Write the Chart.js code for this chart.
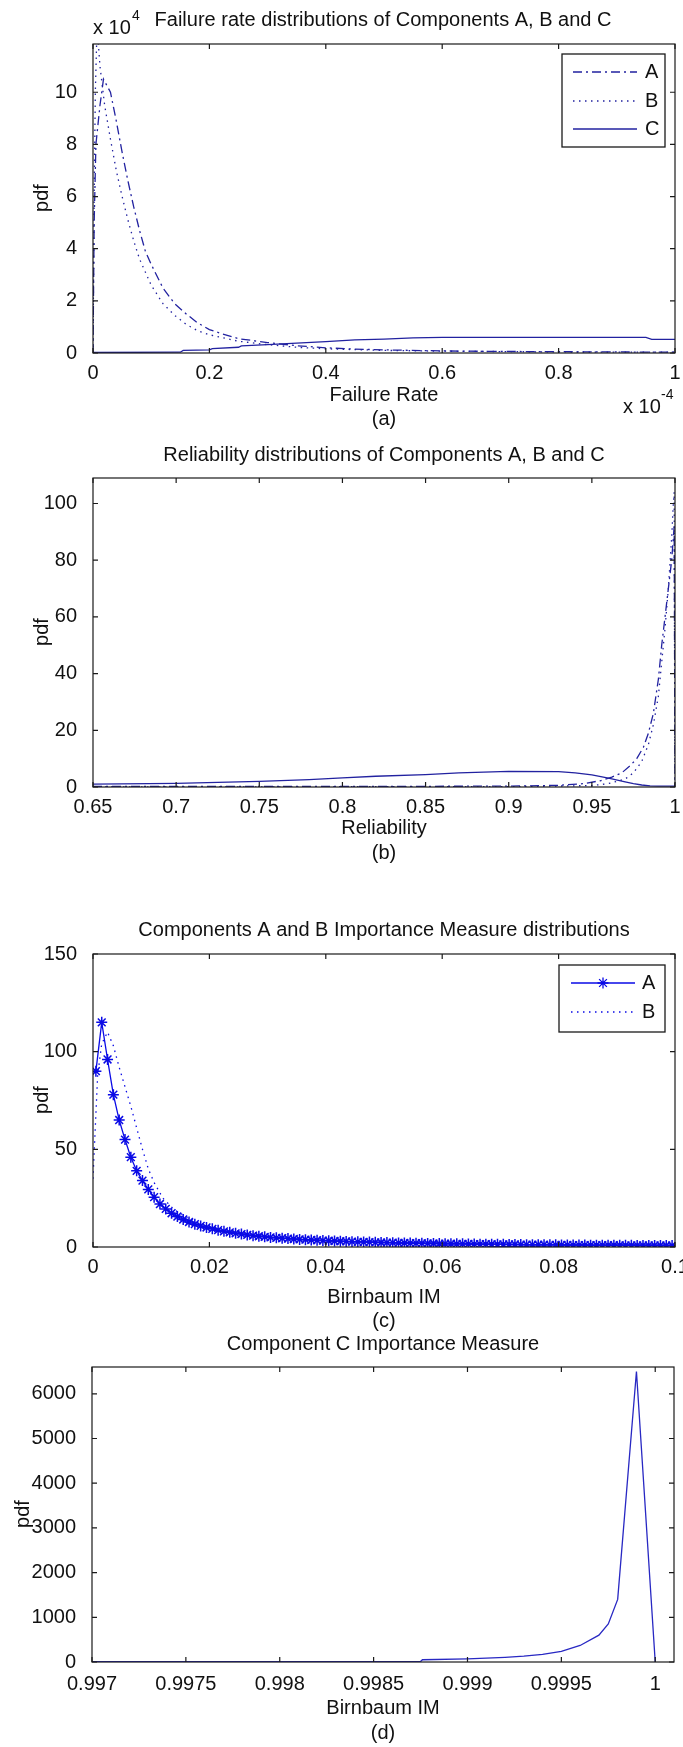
<!DOCTYPE html>
<html>
<head>
<meta charset="utf-8">
<title>Failure rate, reliability and importance measure distributions</title>
<script src="https://cdn.jsdelivr.net/npm/chart.js@4.4.0/dist/chart.umd.min.js"></script>
<style>
  body { margin: 0; background: #fff; width: 683px; height: 1747px; position: relative; overflow: hidden; }
  canvas { position: absolute; left: 0; }
</style>
</head>
<body>
<canvas id="chartRate" width="683" height="432" style="top:0px"></canvas>
<canvas id="chartRel" width="683" height="432" style="top:432px"></canvas>
<canvas id="chartImAB" width="683" height="470" style="top:864px"></canvas>
<canvas id="chartImC" width="683" height="413" style="top:1334px"></canvas>
<script>
// (a) failure rate pdf: x in units of 1e-4, pdf in units of 1e4
let rateXTicks = [0, 0.2, 0.4, 0.6, 0.8, 1];
let rateYTicks = [0, 2, 4, 6, 8, 10];
let rateA_x = [0, 0.002, 0.005, 0.012, 0.018, 0.03, 0.04, 0.05, 0.06, 0.07, 0.08, 0.09, 0.1, 0.12, 0.14, 0.16, 0.18, 0.2, 0.22, 0.25, 0.3, 0.35, 0.4, 0.45, 0.5, 0.6, 0.7, 0.8, 0.9, 1.0];
let rateA_y = [0, 5, 8, 9.5, 10.5, 10, 8.9, 7.7, 6.6, 5.6, 4.7, 3.9, 3.4, 2.5, 1.9, 1.5, 1.15, 0.9, 0.75, 0.55, 0.4, 0.28, 0.2, 0.15, 0.12, 0.08, 0.06, 0.05, 0.04, 0.03];
let rateB_x = [0, 0.002, 0.004, 0.007, 0.012, 0.02, 0.03, 0.04, 0.05, 0.06, 0.07, 0.08, 0.1, 0.12, 0.14, 0.16, 0.18, 0.2, 0.25, 0.3, 0.35, 0.4, 0.5, 0.6, 0.8, 1.0];
let rateB_y = [0, 6, 10, 12.5, 11, 9.5, 8.2, 7, 6, 5.1, 4.3, 3.6, 2.6, 1.9, 1.45, 1.1, 0.85, 0.7, 0.45, 0.32, 0.22, 0.16, 0.1, 0.07, 0.04, 0.03];
let rateC_x = [0, 0.15, 0.155, 0.2, 0.205, 0.25, 0.255, 0.3, 0.35, 0.4, 0.45, 0.5, 0.55, 0.6, 0.95, 0.96, 1.0];
let rateC_y = [0.02, 0.03, 0.1, 0.12, 0.17, 0.22, 0.27, 0.32, 0.38, 0.44, 0.5, 0.53, 0.58, 0.6, 0.6, 0.52, 0.52];

// (b) reliability pdf
let relXTicks = [0.65, 0.7, 0.75, 0.8, 0.85, 0.9, 0.95, 1];
let relYTicks = [0, 20, 40, 60, 80, 100];
let relA_x = [0.65, 0.8, 0.9, 0.93, 0.945, 0.955, 0.962, 0.968, 0.973, 0.977, 0.981, 0.984, 0.987, 0.99, 0.992, 0.994, 0.996, 0.998, 0.999, 0.9995, 1.0];
let relA_y = [0.2, 0.2, 0.3, 0.6, 1.2, 2.2, 3.5, 5, 7.5, 10, 14, 19, 26, 38, 50, 60, 70, 80, 88, 92, 0];
let relB_x = [0.65, 0.9, 0.95, 0.96, 0.97, 0.975, 0.98, 0.984, 0.987, 0.99, 0.992, 0.994, 0.996, 0.998, 0.999, 0.9995, 1.0];
let relB_y = [0.05, 0.1, 0.5, 1.2, 2.8, 5, 9, 15, 22, 32, 44, 56, 70, 88, 100, 104, 0];
let relC_x = [0.65, 0.7, 0.75, 0.78, 0.8, 0.82, 0.85, 0.87, 0.9, 0.93, 0.94, 0.95, 0.96, 0.97, 0.975, 0.98, 0.985, 0.99, 1.0];
let relC_y = [1.0, 1.3, 2.0, 2.6, 3.2, 3.8, 4.4, 5.0, 5.5, 5.4, 5.0, 4.3, 3.1, 1.8, 1.2, 0.7, 0.4, 0.3, 0.3];

// (c) Birnbaum IM pdf of components A and B
let imABXTicks = [0, 0.02, 0.04, 0.06, 0.08, 0.1];
let imABYTicks = [0, 50, 100, 150];
let imA_x = [0.0005, 0.0015, 0.0025, 0.0035, 0.0045, 0.0055, 0.0065, 0.0075, 0.0085, 0.0095,
             0.0105, 0.0115, 0.0125, 0.0135, 0.0145, 0.0155, 0.0165, 0.0175, 0.0185, 0.0195,
             0.0205, 0.0215, 0.0225, 0.0235, 0.0245, 0.0255, 0.0265, 0.0275, 0.0285, 0.0295,
             0.0305, 0.0315, 0.0325, 0.0335, 0.0345, 0.0355, 0.0365, 0.0375, 0.0385, 0.0395,
             0.0405, 0.0415, 0.0425, 0.0435, 0.0445, 0.0455, 0.0465, 0.0475, 0.0485, 0.0495,
             0.0505, 0.0515, 0.0525, 0.0535, 0.0545, 0.0555, 0.0565, 0.0575, 0.0585, 0.0595,
             0.0605, 0.0615, 0.0625, 0.0635, 0.0645, 0.0655, 0.0665, 0.0675, 0.0685, 0.0695,
             0.0705, 0.0715, 0.0725, 0.0735, 0.0745, 0.0755, 0.0765, 0.0775, 0.0785, 0.0795,
             0.0805, 0.0815, 0.0825, 0.0835, 0.0845, 0.0855, 0.0865, 0.0875, 0.0885, 0.0895,
             0.0905, 0.0915, 0.0925, 0.0935, 0.0945, 0.0955, 0.0965, 0.0975, 0.0985, 0.0995];
let imA_y = [90, 115, 96, 78, 65, 55, 46, 39, 34, 29.5,
             25.5, 22, 19.5, 17.3, 15.6, 14.1, 12.8, 11.7, 10.8, 10.0,
             9.3, 8.6, 8.0, 7.5, 7.0, 6.6, 6.2, 5.8, 5.5, 5.2,
             4.9, 4.7, 4.5, 4.3, 4.1, 3.9, 3.75, 3.6, 3.45, 3.3,
             3.2, 3.05, 2.95, 2.85, 2.75, 2.65, 2.55, 2.5, 2.4, 2.3,
             2.25, 2.2, 2.1, 2.05, 2.0, 1.95, 1.9, 1.85, 1.8, 1.75,
             1.7, 1.65, 1.6, 1.6, 1.55, 1.5, 1.45, 1.45, 1.4, 1.35,
             1.35, 1.3, 1.3, 1.25, 1.2, 1.2, 1.15, 1.15, 1.1, 1.1,
             1.05, 1.05, 1.0, 1.0, 0.98, 0.95, 0.95, 0.92, 0.9, 0.9,
             0.88, 0.86, 0.85, 0.83, 0.82, 0.8, 0.8, 0.78, 0.77, 0.75];
let imB_x = [0, 0.0003, 0.0008, 0.0015, 0.0025, 0.0035, 0.0045, 0.0055, 0.0065, 0.0075, 0.0085, 0.0095, 0.0105, 0.012, 0.014, 0.016, 0.018, 0.02, 0.025, 0.03, 0.035, 0.04, 0.05, 0.06, 0.07, 0.08, 0.09, 0.1];
let imB_y = [35, 55, 88, 104, 110, 103, 92, 82, 72, 61, 50, 40, 33, 25, 19, 15.5, 12.5, 10.5, 7.5, 5.8, 4.6, 3.8, 2.8, 2.2, 1.8, 1.5, 1.3, 1.1];

// (d) Birnbaum IM pdf of component C
let imCXTicks = [0.997, 0.9975, 0.998, 0.9985, 0.999, 0.9995, 1];
let imCYTicks = [0, 1000, 2000, 3000, 4000, 5000, 6000];
let imC_x = [0.997, 0.9975, 0.998, 0.9985, 0.99875, 0.99876, 0.999, 0.9991, 0.9992, 0.9993, 0.9994, 0.9995, 0.9996, 0.9997, 0.99975, 0.9998, 0.9999, 1.0];
let imC_y = [10, 10, 10, 10, 10, 50, 70, 85, 105, 130, 170, 240, 370, 600, 850, 1400, 6500, 0];

const FONT = "'Liberation Sans', Arial, Helvetica, sans-serif";
const LINE_BLUE = "rgb(34,34,160)";
const STAR_BLUE = "rgb(10,10,230)";
const TEXT_COL = "#111";
const FS = 20;
const X_AXIS_H = 44;

function pairs(xs, ys) {
    return xs.map(function (x, i) { return { x: x, y: ys[i] }; });
}

function fmtTick(v) {
    return String(Number(v.toFixed(6)));
}

function lineSet(label, xs, ys, dash) {
    return {
        label: label,
        data: pairs(xs, ys),
        borderColor: LINE_BLUE,
        borderWidth: 1.3,
        borderDash: dash,
        pointRadius: 0,
        fill: false,
        tension: 0
    };
}

// matlab style box, inward ticks, legend box and free texts
const matlabBox = {
    id: "matlabBox",
    afterDatasetsDraw(chart, args, opts) {
        let ctx = chart.ctx;
        let area = chart.chartArea;
        let sx = chart.scales.x;
        let sy = chart.scales.y;
        ctx.save();
        ctx.strokeStyle = "#1a1a1a";
        ctx.lineWidth = 1.2;
        ctx.setLineDash([]);
        ctx.strokeRect(area.left, area.top, area.right - area.left, area.bottom - area.top);
        ctx.beginPath();
        sx.ticks.forEach(function (t) {
            let px = sx.getPixelForValue(t.value);
            ctx.moveTo(px, area.bottom); ctx.lineTo(px, area.bottom - 5);
            ctx.moveTo(px, area.top); ctx.lineTo(px, area.top + 5);
        });
        sy.ticks.forEach(function (t) {
            let py = sy.getPixelForValue(t.value);
            ctx.moveTo(area.left, py); ctx.lineTo(area.left + 5, py);
            ctx.moveTo(area.right, py); ctx.lineTo(area.right - 5, py);
        });
        ctx.stroke();

        let lg = opts.legend;
        if (lg) {
            ctx.fillStyle = "#fff";
            ctx.fillRect(lg.left, lg.top, lg.right - lg.left, lg.bottom - lg.top);
            ctx.strokeStyle = "#1a1a1a";
            ctx.lineWidth = 1.3;
            ctx.strokeRect(lg.left, lg.top, lg.right - lg.left, lg.bottom - lg.top);
            lg.rows.forEach(function (row, i) {
                let ds = chart.data.datasets[i];
                ctx.strokeStyle = ds.borderColor;
                ctx.lineWidth = ds.borderWidth;
                ctx.setLineDash(ds.borderDash || []);
                ctx.beginPath();
                ctx.moveTo(lg.x1, row);
                ctx.lineTo(lg.x2, row);
                ctx.stroke();
                ctx.setLineDash([]);
                if (ds.pointStyle === "star") {
                    Chart.helpers.drawPoint(ctx, { pointStyle: "star", radius: ds.pointRadius, borderWidth: ds.pointBorderWidth }, (lg.x1 + lg.x2) / 2, row);
                }
                ctx.fillStyle = TEXT_COL;
                ctx.font = FS + "px " + FONT;
                ctx.textAlign = "left";
                ctx.textBaseline = "middle";
                ctx.fillText(ds.label, lg.textX, row);
            });
        }

        opts.texts.forEach(function (t) {
            ctx.fillStyle = TEXT_COL;
            ctx.font = t.size + "px " + FONT;
            ctx.textAlign = t.align || "center";
            ctx.textBaseline = "middle";
            if (t.rotate) {
                ctx.save();
                ctx.translate(t.x, t.y);
                ctx.rotate(-Math.PI / 2);
                ctx.fillText(t.text, 0, 0);
                ctx.restore();
            } else {
                ctx.fillText(t.text, t.x, t.y);
            }
        });
        ctx.restore();
    }
};

function makeChart(id, p) {
    return new Chart(document.getElementById(id), {
        type: "line",
        data: { datasets: p.datasets },
        options: {
            responsive: false,
            animation: false,
            events: [],
            layout: { padding: { left: 0, right: p.right, top: p.top, bottom: p.bottom } },
            plugins: {
                legend: { display: false },
                tooltip: { enabled: false },
                matlabBox: { texts: p.texts, legend: p.legend }
            },
            scales: {
                x: {
                    type: "linear",
                    min: p.xMin,
                    max: p.xMax,
                    grid: { display: false },
                    border: { display: false },
                    afterBuildTicks: function (s) { s.ticks = p.xTicks.map(function (v) { return { value: v }; }); },
                    ticks: {
                        autoSkip: false,
                        maxRotation: 0,
                        padding: p.xPad,
                        color: TEXT_COL,
                        font: { family: FONT, size: FS },
                        callback: fmtTick
                    },
                    afterFit: function (s) { s.height = X_AXIS_H; s.paddingLeft = 0; s.paddingRight = 0; }
                },
                y: {
                    type: "linear",
                    min: p.yMin,
                    max: p.yMax,
                    grid: { display: false },
                    border: { display: false },
                    afterBuildTicks: function (s) { s.ticks = p.yTicks.map(function (v) { return { value: v }; }); },
                    ticks: {
                        autoSkip: false,
                        padding: 8,
                        color: TEXT_COL,
                        font: { family: FONT, size: FS },
                        callback: fmtTick
                    },
                    afterFit: function (s) { s.width = p.yWidth; s.paddingTop = 0; s.paddingBottom = 0; }
                }
            }
        },
        plugins: [matlabBox]
    });
}

// (a)
makeChart("chartRate", {
    datasets: [
        lineSet("A", rateA_x, rateA_y, [9, 4, 2, 4]),
        lineSet("B", rateB_x, rateB_y, [1.5, 4.5]),
        lineSet("C", rateC_x, rateC_y, [])
    ],
    xMin: 0, xMax: 1, xTicks: rateXTicks,
    yMin: 0, yMax: 11.85, yTicks: rateYTicks,
    top: 44, bottom: 432 - 353 - X_AXIS_H, right: 8, yWidth: 93, xPad: 0,
    legend: { left: 562, top: 54, right: 665, bottom: 147, rows: [72, 101, 129], x1: 573, x2: 637, textX: 645 },
    texts: [
        { text: "Failure rate distributions of Components A, B and C", x: 383, y: 20, size: FS },
        { text: "x 10", x: 93, y: 28, size: FS, align: "left" },
        { text: "4", x: 132, y: 16, size: 14, align: "left" },
        { text: "pdf", x: 42, y: 198, size: FS, rotate: true },
        { text: "Failure Rate", x: 384, y: 395, size: FS },
        { text: "(a)", x: 384, y: 419, size: FS },
        { text: "x 10", x: 623, y: 407, size: FS, align: "left" },
        { text: "-4", x: 661, y: 395, size: 14, align: "left" }
    ]
});

// (b)
makeChart("chartRel", {
    datasets: [
        lineSet("A", relA_x, relA_y, [9, 4, 2, 4]),
        lineSet("B", relB_x, relB_y, [1.5, 4.5]),
        lineSet("C", relC_x, relC_y, [])
    ],
    xMin: 0.65, xMax: 1, xTicks: relXTicks,
    yMin: 0, yMax: 109, yTicks: relYTicks,
    top: 46, bottom: 432 - 355 - X_AXIS_H, right: 8, yWidth: 93, xPad: 0,
    legend: null,
    texts: [
        { text: "Reliability distributions of Components A, B and C", x: 384, y: 23, size: FS },
        { text: "pdf", x: 42, y: 200, size: FS, rotate: true },
        { text: "Reliability", x: 384, y: 396, size: FS },
        { text: "(b)", x: 384, y: 421, size: FS }
    ]
});

// (c)
let starSet = lineSet("A", imA_x, imA_y, []);
starSet.borderColor = STAR_BLUE;
starSet.pointStyle = "star";
starSet.pointRadius = 5.5;
starSet.pointBorderColor = STAR_BLUE;
starSet.pointBorderWidth = 1.5;
let dotSet = lineSet("B", imB_x, imB_y, [1.5, 4.5]);
dotSet.borderColor = STAR_BLUE;

makeChart("chartImAB", {
    datasets: [starSet, dotSet],
    xMin: 0, xMax: 0.1, xTicks: imABXTicks,
    yMin: 0, yMax: 150, yTicks: imABYTicks,
    top: 90, bottom: 470 - 383 - X_AXIS_H, right: 8, yWidth: 93, xPad: 0,
    legend: { left: 559, top: 101, right: 665, bottom: 168, rows: [119, 148], x1: 571, x2: 635, textX: 642 },
    texts: [
        { text: "Components A and B Importance Measure distributions", x: 384, y: 66, size: FS },
        { text: "pdf", x: 42, y: 236, size: FS, rotate: true },
        { text: "Birnbaum IM", x: 384, y: 433, size: FS },
        { text: "(c)", x: 384, y: 457, size: FS }
    ]
});

// (d)
let cSet = lineSet("C", imC_x, imC_y, []);
cSet.borderColor = "rgb(40,40,195)";

makeChart("chartImC", {
    datasets: [cSet],
    xMin: 0.997, xMax: 1.0001, xTicks: imCXTicks,
    yMin: 0, yMax: 6600, yTicks: imCYTicks,
    top: 33, bottom: 413 - 328 - X_AXIS_H, right: 9, yWidth: 92, xPad: 2,
    legend: null,
    texts: [
        { text: "Component C Importance Measure", x: 383, y: 10, size: FS },
        { text: "pdf", x: 23, y: 180, size: FS, rotate: true },
        { text: "Birnbaum IM", x: 383, y: 374, size: FS },
        { text: "(d)", x: 383, y: 399, size: FS }
    ]
});
</script>
</body>
</html>
